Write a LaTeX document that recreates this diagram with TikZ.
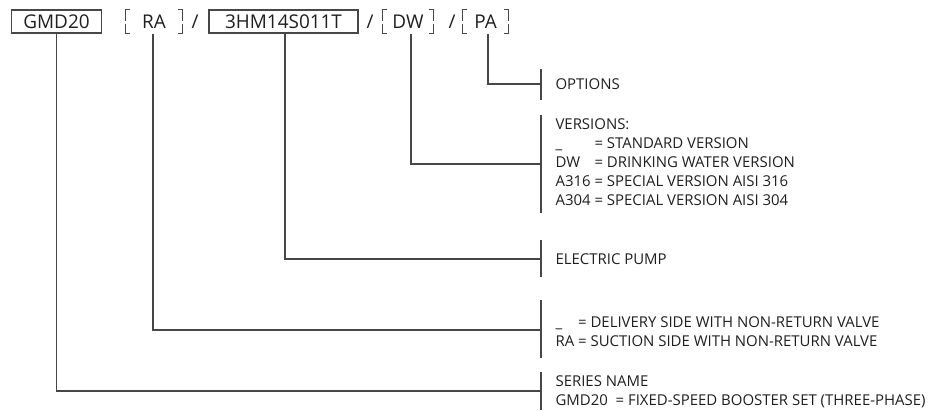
\documentclass[tikz,border=0pt]{standalone}
\usepackage{fontspec}
\setmainfont{Open Sans}
\tikzset{
 code/.style={inner sep=0pt,minimum height=23bp,font=\fontsize{19}{20}\selectfont,text=txt},
 codebox/.style={code,draw=ln,line width=1.1bp},
 note/.style={anchor=west,inner sep=0pt,align=left,font=\fontsize{15}{19}\selectfont,text=txt},
}
\colorlet{ln}{black!72}
\colorlet{txt}{black!88}
\begin{document}
\begin{tikzpicture}[x=1bp,y=-1bp,line width=1.1bp]
 \useasboundingbox (0,0) rectangle (928,410);
 \path
 (56.5,21.5) node[codebox,minimum width=90bp] (gmd) {GMD20} % <<< series
 ++(0:97.5) node[code,minimum width=56bp] (ra) {RA}
 ++(0:41) node[code] (s1) {/}
 ++(0:88.5) node[codebox,minimum width=149bp] (pump) {3HM14S011T}
 ++(0:86.5) node[code] (s2) {/}
 ++(0:38) node[code,minimum width=50bp] (dw) {DW}
 ++(0:44) node[code] (s3) {/}
 ++(0:33.5) node[code,minimum width=45bp] (pa) {PA};
 % open brackets
 \foreach \n in {ra,dw,pa}{
 \draw[ln] ([xshift=5bp]\n.north west) -- (\n.north west) -- ([yshift=1bp]\n.west)
 ([yshift=-2bp]\n.west) -- (\n.south west) -- ([xshift=5bp]\n.south west);
 \draw[ln] ([xshift=-5bp]\n.north east) -- (\n.north east) -- ([yshift=1bp]\n.east)
 ([yshift=-2bp]\n.east) -- (\n.south east) -- ([xshift=-5bp]\n.south east);
 }
 % right column
 \coordinate (t1) at (541,84);
 \coordinate (t2) at (541,164);
 \coordinate (t3) at (541,259);
 \coordinate (t4) at (541,330);
 \coordinate (t5) at (541,391);
 \node[note] (opt) at (555,84) {OPTIONS};
 \node[note] (ver) at (555,164) {\begin{tabular}{@{}l@{ }l@{}}
 \multicolumn{2}{@{}l@{}}{VERSIONS:}\\
 \_ & = STANDARD VERSION\\
 DW & = DRINKING WATER VERSION\\
 A316 & = SPECIAL VERSION AISI 316\\
 A304 & = SPECIAL VERSION AISI 304
 \end{tabular}};
 \node[note] (elp) at (555,259) {ELECTRIC PUMP};
 \node[note] (val) at (555,333) {\begin{tabular}{@{}l@{ }l@{}}
 \_ & = DELIVERY SIDE WITH NON-RETURN VALVE\\
 RA & = SUCTION SIDE WITH NON-RETURN VALVE
 \end{tabular}};
 \node[note] (ser) at (555,392) {SERIES NAME\\GMD20\ \ = FIXED-SPEED BOOSTER SET (THREE-PHASE)};
 % ticks
 \draw[ln] (541,69) -- (541,100)
 (541,115) -- (541,213)
 (541,240) -- (541,277)
 (541,300) -- (541,358)
 (541,372) -- (541,410);
 % leaders
 \draw[ln] ([xshift=2.5bp]pa.south) |- (t1);
 \draw[ln] ([xshift=3bp]dw.south) |- (t2);
 \draw[ln] ([xshift=1.5bp]pump.south) |- (t3);
 \draw[ln] ([xshift=-1bp]ra.south) |- (t4);
 \draw[ln] (gmd.south) |- (t5);
\end{tikzpicture}
\end{document}
